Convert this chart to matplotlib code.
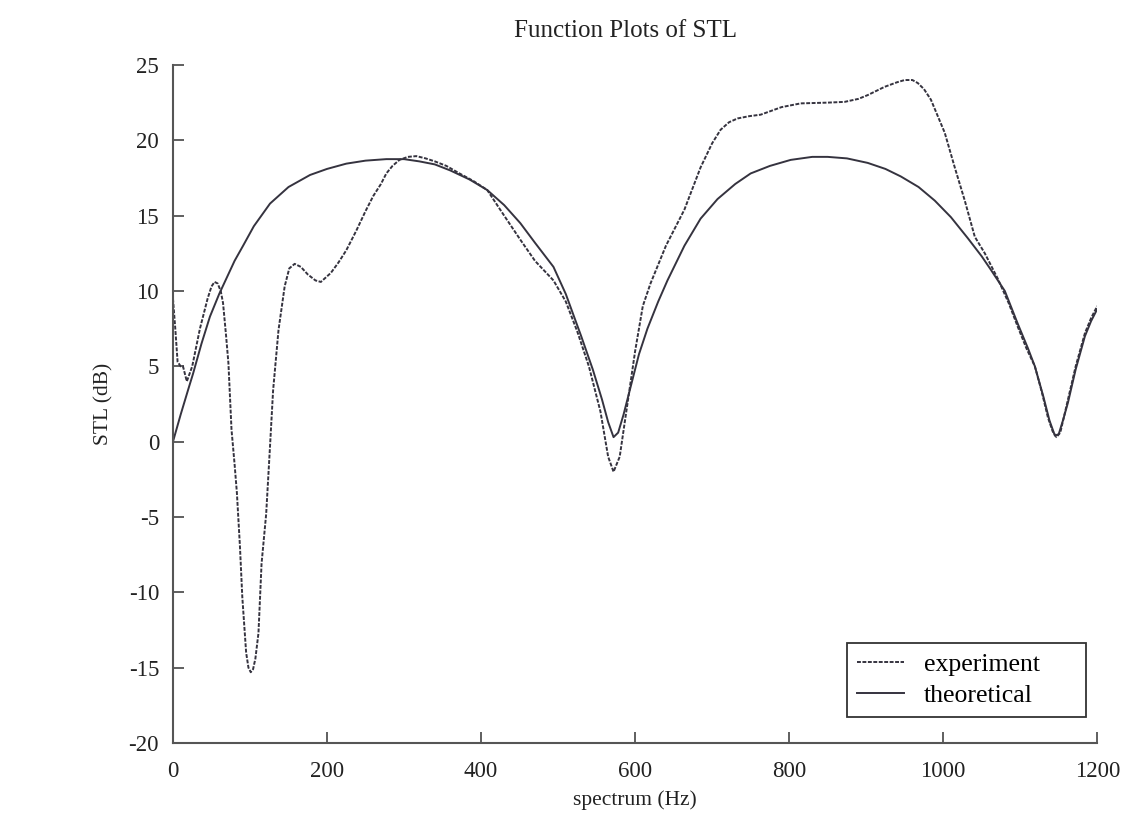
import matplotlib
matplotlib.use("Agg")
import matplotlib.pyplot as plt

# experiment (dotted) curve
exp_hz = [0, 3, 6, 10, 13, 18, 25, 35, 45, 50, 54, 58, 62, 65, 69, 72, 76, 80, 83,
          87, 90, 95, 98, 101, 104, 107, 111, 115, 121, 126, 130, 137, 145, 151, 158,
          166, 175, 185, 192, 205, 215, 225, 238, 250, 260, 270, 277, 285, 294, 305,
          316, 328, 340, 355, 372, 390, 408, 430, 451, 470, 494, 510, 525, 540, 555,
          565, 572, 580, 590, 600, 610, 620, 640, 664, 685, 700, 711, 722, 733, 748,
          763, 790, 815, 850, 872, 890, 902, 924, 940, 950, 960, 967, 975, 984, 1002,
          1015, 1028, 1041, 1054, 1071, 1085, 1097, 1108, 1119, 1128, 1136, 1142,
          1147, 1152, 1162, 1172, 1184, 1192, 1200]
exp_db = [9.5, 7.5, 5.3, 5.0, 5.0, 4.0, 5.0, 7.5, 9.5, 10.3, 10.6, 10.5, 10.0, 9.2,
          7.0, 5.2, 0.8, -1.5, -3.4, -7.0, -10.3, -14.0, -15.0, -15.3, -15.1, -14.4,
          -12.7, -8.1, -4.8, -0.3, 3.4, 7.4, 10.3, 11.5, 11.8, 11.6, 11.1, 10.7, 10.6,
          11.2, 11.9, 12.7, 14.0, 15.3, 16.3, 17.1, 17.8, 18.3, 18.7, 18.9, 18.95,
          18.8, 18.6, 18.3, 17.8, 17.3, 16.7, 15.0, 13.4, 12.0, 10.7, 9.3, 7.3, 5.0,
          2.0, -1.0, -2.0, -1.0, 2.5, 6.0, 9.0, 10.5, 13.0, 15.4, 18.2, 19.8, 20.7,
          21.2, 21.45, 21.6, 21.7, 22.2, 22.45, 22.5, 22.55, 22.75, 23.0, 23.55, 23.85,
          24.0, 24.0, 23.8, 23.4, 22.7, 20.5, 18.2, 16.0, 13.6, 12.5, 10.8, 9.2, 7.6,
          6.2, 5.0, 3.3, 1.6, 0.7, 0.3, 0.6, 2.8, 5.0, 7.2, 8.2, 9.0]

# theoretical (solid) curve
th_hz = [0, 10, 20, 26, 37, 48, 60, 70, 80, 91, 105, 126, 150, 178, 200, 225, 250,
         277, 300, 320, 340, 360, 385, 408, 430, 451, 470, 494, 510, 530, 545, 557,
         565, 572, 578, 585, 595, 605, 616, 630, 642, 664, 685, 707, 730, 750, 775,
         802, 830, 850, 875, 902, 925, 945, 968, 989, 1010, 1032, 1050, 1062, 1080,
         1097, 1110, 1119, 1130, 1138, 1145, 1150, 1156, 1162, 1172, 1184, 1192, 1200]
th_db = [0.0, 1.8, 3.5, 4.5, 6.5, 8.3, 9.8, 10.9, 12.0, 13.0, 14.3, 15.8, 16.9, 17.7,
         18.1, 18.45, 18.65, 18.75, 18.75, 18.6, 18.4, 18.0, 17.4, 16.7, 15.7, 14.5,
         13.2, 11.6, 9.8, 7.0, 4.8, 2.8, 1.3, 0.3, 0.6, 1.8, 3.8, 5.8, 7.5, 9.3, 10.7,
         13.0, 14.8, 16.1, 17.1, 17.8, 18.3, 18.7, 18.9, 18.9, 18.8, 18.5, 18.1, 17.6,
         16.9, 16.0, 14.9, 13.5, 12.3, 11.4, 10.0, 7.8, 6.2, 5.0, 3.0, 1.4, 0.4, 0.5,
         1.5, 2.6, 4.8, 7.0, 8.0, 8.8]

x_ticks = [0, 200, 400, 600, 800, 1000, 1200]
y_ticks = [-20, -15, -10, -5, 0, 5, 10, 15, 20, 25]

plt.rcParams['font.family'] = ['Liberation Serif', 'DejaVu Serif']
plt.rcParams['axes.unicode_minus'] = False

fig = plt.figure(figsize=(11.32, 8.15), dpi=100)
ax = fig.add_axes([0.1528, 0.0883, 0.8165, 0.832])

line_col = '#35333f'
ax.plot(exp_hz, exp_db, color=line_col, lw=1.4, ls=(0, (2.0, 0.8)), label='experiment')
ax.plot(th_hz, th_db, color=line_col, lw=1.4, label='theoretical')

ax.set_xlim(0, 1200)
ax.set_ylim(-20, 25)
ax.set_xticks(x_ticks)
ax.set_yticks(y_ticks)
ax.tick_params(direction='in', length=8, width=1.2, labelsize=16.5, colors='#444444',
               labelcolor='#222222')
ax.tick_params(axis='x', pad=13)
ax.tick_params(axis='y', pad=10)
for s in ['top', 'right']:
    ax.spines[s].set_visible(False)
for s in ['left', 'bottom']:
    ax.spines[s].set_linewidth(1.5)
    ax.spines[s].set_color('#555555')

ax.set_xlabel('spectrum (Hz)', fontsize=15.5, color='#222222', labelpad=6)
ax.set_ylabel('STL (dB)', fontsize=15.5, color='#222222', labelpad=11)
ax.set_title('Function Plots of STL', fontsize=18, color='#222222', pad=20, x=0.49)

leg = ax.legend(loc='lower left', bbox_to_anchor=(0.7288, 0.038, 0.2585, 0.11),
                mode='expand', fontsize=18.5, fancybox=False, framealpha=1,
                edgecolor='#333333', handlelength=1.85, borderpad=0.4,
                labelspacing=0.3, handletextpad=0.75, borderaxespad=0)
leg.get_frame().set_linewidth(1.3)

fig.savefig('out.png', dpi=100, facecolor='white')
